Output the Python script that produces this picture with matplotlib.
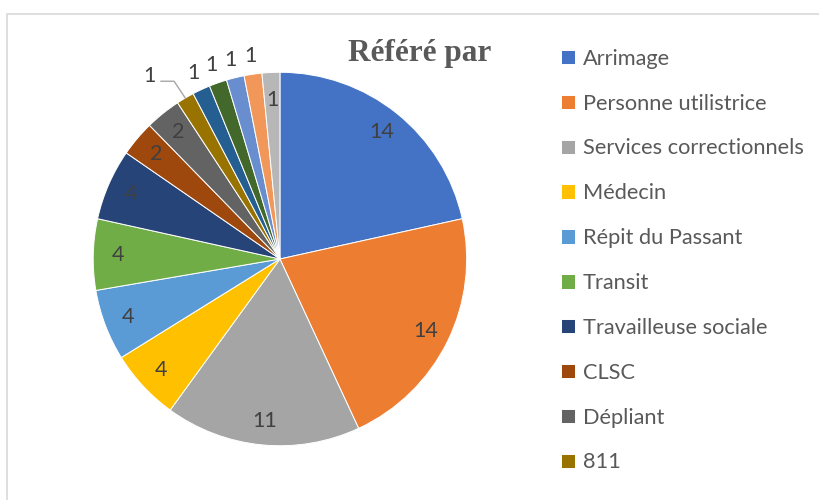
import numpy as np
import matplotlib.pyplot as plt
from matplotlib.patches import Rectangle

# données du graphique
categories = ['Arrimage', 'Personne utilistrice', 'Services correctionnels', 'Médecin',
              'Répit du Passant', 'Transit', 'Travailleuse sociale', 'CLSC', 'Dépliant', '811']
values = [14, 14, 11, 4, 4, 4, 4, 2, 2, 1, 1, 1, 1, 1, 1]
colors = ['#4472C4', '#ED7D31', '#A5A5A5', '#FFC000', '#5B9BD5', '#70AD47', '#264478',
          '#9E480E', '#636363', '#997300', '#255E91', '#43682B', '#698ED0', '#F1975A', '#B7B7B7']
# distance des étiquettes (fraction du rayon)
label_dist = [0.87] * 9 + [None, 1.1, 1.1, 1.1, 1.1, 0.85]

fig = plt.figure(figsize=(8.19, 5), dpi=100)

# cadre du graphique
fig.patches.append(Rectangle((7 / 819, -0.1), 1.2, (500 - 14) / 500 + 0.1,
                             transform=fig.transFigure, fill=False,
                             edgecolor='#D9D9D9', linewidth=1.2))

ax = fig.add_axes([0.0568, 0.015, 0.570, 0.934])
wedges, _ = ax.pie(values, colors=colors, startangle=90, counterclock=False,
                   wedgeprops=dict(edgecolor='white', linewidth=0.7))
ax.set_xlim(-1.25, 1.25)
ax.set_ylim(-1.25, 1.25)
ax.set_aspect('equal')
ax.axis('off')

total = sum(values)
cum = 0
for i, v in enumerate(values):
    mid = (cum + v / 2) / total * 2 * np.pi
    cum += v
    sx, cy = np.sin(mid), np.cos(mid)
    d = label_dist[i]
    if d is None:
        # étiquette avec ligne de rappel
        ex, ey = sx, cy
        lx, ly = ex - 0.19, ey + 0.12
        ax.plot([lx + 0.06, ex - 0.06, ex], [ly - 0.03, ly - 0.03, ey],
                color='#A6A6A6', linewidth=1)
        ax.text(lx, ly, str(v), ha='center', va='center', fontsize=15.5,
                color='#404040', family='Lato')
    else:
        ax.text(sx * d, cy * d, str(v), ha='center', va='center', fontsize=15.5,
                color='#404040', family='Lato')

fig.text(420 / 819, 1 - 53 / 500, 'Référé par', ha='center', va='center',
         fontsize=22.5, fontweight='bold', color='#595959', family='Liberation Serif')

fig.legend(wedges[:10], categories, loc='upper left',
           bbox_to_anchor=(552 / 819, 1 - 40 / 500), frameon=False,
           prop=dict(family='Lato', size=15.7), labelcolor='#595959',
           handlelength=0.65, handleheight=0.65, handletextpad=0.35,
           labelspacing=1.14, borderaxespad=0)

fig.savefig('out.png', dpi=100)
